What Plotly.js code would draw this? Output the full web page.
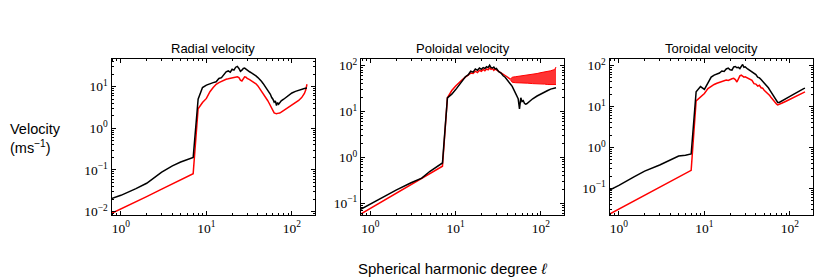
<!DOCTYPE html>
<html>
<head>
<meta charset="utf-8">
<script src="https://cdn.plot.ly/plotly-3.0.1.min.js"></script>
<style>html,body{margin:0;padding:0;background:#fff;}#chart{width:830px;height:277px;}</style>
</head>
<body>
<div id="chart"></div>
<script>
// Spherical harmonic degree (shared sample points)
const degree = [0.75, 1, 1.5, 2, 3, 4, 5, 6, 7, 8, 9, 10, 11, 12, 13, 14, 15, 16, 17, 18, 19, 20, 21, 22, 23, 24, 25, 26, 27, 28, 29, 30,
  32, 34, 36, 38, 40, 42, 44, 46, 48, 50, 52, 54, 56, 58, 60, 62, 64, 66, 68, 70, 72,
  75, 80, 90, 100, 110, 120, 130, 140, 145, 150];

// Values, stored as log10(velocity in m/s)
const radialBlackLog = [-1.70, -1.61, -1.45, -1.32, -1.05, -0.90, -0.81, -0.75, -0.70,
  0.70, 0.98, 1.04, 1.08, 1.10, 1.12, 1.20, 1.22, 1.30, 1.36, 1.38, 1.35, 1.42, 1.40, 1.47, 1.49, 1.44, 1.37, 1.40, 1.44, 1.45, 1.42, 1.40,
  1.36, 1.33, 1.30, 1.26, 1.22, 1.18, 1.13, 1.08, 1.03, 0.98, 0.92, 0.88, 0.82, 0.74, 0.70, 0.63, 0.66, 0.55, 0.62, 0.58, 0.62,
  0.66, 0.70, 0.78, 0.85, 0.89, 0.92, 0.94, 0.96, 0.965, 0.97];
const radialRedLog = [-2.06, -1.94, -1.76, -1.64, -1.46, -1.34, -1.24, -1.16, -1.09,
  0.47, 0.62, 0.72, 0.88, 0.98, 1.06, 1.10, 1.13, 1.16, 1.18, 1.19, 1.20, 1.21, 1.22, 1.23, 1.24, 1.22, 1.16, 1.14, 1.20, 1.24, 1.23, 1.20,
  1.17, 1.14, 1.10, 1.07, 1.02, 0.96, 0.90, 0.85, 0.79, 0.73, 0.67, 0.61, 0.54, 0.46, 0.40, 0.37, 0.36, 0.35, 0.36, 0.36, 0.37,
  0.39, 0.43, 0.49, 0.55, 0.61, 0.67, 0.74, 0.84, 0.92, 1.06];

const poloidalBlackLog = [-1.14, -1.01, -0.83, -0.71, -0.55, -0.45, -0.30, -0.20, -0.12,
  1.30, 1.38, 1.48, 1.58, 1.66, 1.76, 1.80, 1.88, 1.86, 1.93, 1.90, 1.95, 1.92, 1.96, 1.94, 1.98, 1.96, 2.01, 1.96, 1.95, 1.97, 1.93, 1.94,
  1.87, 1.84, 1.78, 1.75, 1.70, 1.66, 1.60, 1.55, 1.48, 1.42, 1.35, 1.28, 1.06, 1.30, 1.22, 1.24, 1.18, 1.16, 1.17, 1.19, 1.21,
  1.24, 1.28, 1.34, 1.39, 1.43, 1.46, 1.49, 1.51, 1.51, 1.52];
const poloidalRedLog = [-1.246, -1.11, -0.92, -0.78, -0.59, -0.46, -0.35, -0.27, -0.19,
  1.30, 1.46, 1.56, 1.64, 1.70, 1.75, 1.80, 1.84, 1.83, 1.88, 1.85, 1.90, 1.88, 1.92, 1.89, 1.93, 1.91, 1.95, 1.92, 1.94, 1.90, 1.93, 1.91,
  1.88, 1.85, 1.82, 1.79, 1.76, 1.73, 1.70];
// Oscillating red band at high degree (envelope)
const poloidalBandDegree = [44, 46, 50, 55, 60, 70, 80, 90, 100, 110, 120, 130, 140, 145, 150];
const poloidalBandUpperLog = [1.71, 1.75, 1.76, 1.77, 1.78, 1.80, 1.82, 1.83, 1.85, 1.86, 1.88, 1.89, 1.91, 1.92, 1.97];
const poloidalBandLowerLog = [1.69, 1.64, 1.63, 1.63, 1.62, 1.62, 1.61, 1.61, 1.60, 1.60, 1.59, 1.59, 1.59, 1.59, 1.59];

const toroidalBlackLog = [-1.06, -0.93, -0.72, -0.58, -0.43, -0.31, -0.21, -0.19, -0.16,
  1.36, 1.49, 1.42, 1.58, 1.72, 1.77, 1.80, 1.82, 1.87, 1.86, 1.92, 1.94, 1.90, 1.89, 1.97, 1.98, 1.95, 1.96, 1.93, 2.00, 2.03, 1.96, 1.97,
  1.92, 1.88, 1.84, 1.80, 1.78, 1.72, 1.70, 1.66, 1.62, 1.58, 1.54, 1.50, 1.46, 1.41, 1.36, 1.30, 1.27, 1.22, 1.18, 1.13, 1.10,
  1.10, 1.13, 1.19, 1.25, 1.30, 1.35, 1.39, 1.42, 1.44, 1.45];
const toroidalRedLog = [-1.65, -1.51, -1.31, -1.17, -0.97, -0.83, -0.72, -0.63, -0.56,
  1.14, 1.24, 1.32, 1.44, 1.50, 1.54, 1.57, 1.59, 1.60, 1.63, 1.65, 1.64, 1.67, 1.68, 1.69, 1.66, 1.60, 1.66, 1.75, 1.77, 1.74, 1.72, 1.73,
  1.70, 1.67, 1.64, 1.56, 1.55, 1.50, 1.52, 1.46, 1.45, 1.40, 1.37, 1.34, 1.30, 1.27, 1.23, 1.19, 1.15, 1.12, 1.09, 1.06, 1.04,
  1.05, 1.08, 1.13, 1.18, 1.23, 1.27, 1.31, 1.34, 1.35, 1.36];

const panelTitles = ["Radial velocity", "Poloidal velocity", "Toroidal velocity"];
const xTickVals = [1, 10, 100];
const xTickText = ["10<sup>0</sup>", "10<sup>1</sup>", "10<sup>2</sup>"];
const yTickVals1 = [0.01, 0.1, 1, 10];
const yTickText1 = ["10<sup>−2</sup>", "10<sup>−1</sup>", "10<sup>0</sup>", "10<sup>1</sup>"];
const yTickVals23 = [0.1, 1, 10, 100];
const yTickText23 = ["10<sup>−1</sup>", "10<sup>0</sup>", "10<sup>1</sup>", "10<sup>2</sup>"];

const lin = a => a.map(v => Math.pow(10, v));
const minorVals = [];
[0.001, 0.01, 0.1, 1, 10, 100, 1000].forEach(d => { for (let k = 2; k <= 9; k++) minorVals.push(d * k); });

const BLACK = "#000000", RED = "#ff0000";
const lw = 1.5;
function line(x, yLog, color, ax) {
  return {x: x, y: lin(yLog), mode: "lines", line: {color: color, width: lw}, xaxis: "x" + ax, yaxis: "y" + ax, hoverinfo: "skip", showlegend: false};
}

const traces = [
  line(degree, radialRedLog, RED, ""),
  line(degree, radialBlackLog, BLACK, ""),
  {x: poloidalBandDegree, y: lin(poloidalBandLowerLog), mode: "lines", line: {color: RED, width: 1}, xaxis: "x2", yaxis: "y2", showlegend: false, hoverinfo: "skip"},
  {x: poloidalBandDegree, y: lin(poloidalBandUpperLog), mode: "lines", line: {color: RED, width: 1}, fill: "tonexty", fillcolor: "rgba(255,0,0,0.8)", xaxis: "x2", yaxis: "y2", showlegend: false, hoverinfo: "skip"},
  line(degree.slice(0, poloidalRedLog.length), poloidalRedLog, RED, "2"),
  line(degree, poloidalBlackLog, BLACK, "2"),
  line(degree, toroidalRedLog, RED, "3"),
  line(degree, toroidalBlackLog, BLACK, "3")
];

const W = 830, H = 277;
const xDomains = [[111.5 / W, 315 / W], [361 / W, 564 / W], [609.5 / W, 813 / W]];
const yDomain = [1 - 215.3 / H, 1 - 59.3 / H];
const tickFont = {family: "Liberation Serif, DejaVu Serif, serif", size: 13.5, color: "#000"};

function xAxis(i) {
  return {
    type: "log", domain: xDomains[i], range: [-0.11, 2.27], anchor: i === 0 ? "y" : "y" + (i + 1),
    showline: true, linecolor: "#000", linewidth: 1, mirror: "allticks", ticks: "inside", ticklen: 4, tickwidth: 1, tickcolor: "#000",
    tickmode: "array", tickvals: xTickVals, ticktext: xTickText, tickfont: tickFont, showgrid: false, zeroline: false,
    minor: {tickmode: "array", tickvals: minorVals, ticks: "inside", ticklen: 2, tickwidth: 1, tickcolor: "#000", showgrid: false}
  };
}
function yAxis(i, range, vals, text) {
  return {
    type: "log", domain: yDomain, range: range, anchor: i === 0 ? "x" : "x" + (i + 1),
    showline: true, linecolor: "#000", linewidth: 1, mirror: "allticks", ticks: "inside", ticklen: 4, tickwidth: 1, tickcolor: "#000",
    tickmode: "array", tickvals: vals, ticktext: text, tickfont: tickFont, showgrid: false, zeroline: false,
    minor: {tickmode: "array", tickvals: minorVals, ticks: "inside", ticklen: 2, tickwidth: 1, tickcolor: "#000", showgrid: false}
  };
}

const sans = "Liberation Sans, Arial, sans-serif";
const annotations = panelTitles.map((t, i) => ({
  text: t, xref: "paper", yref: "paper", x: (xDomains[i][0] + xDomains[i][1]) / 2, y: 1 - 49 / H,
  xanchor: "center", yanchor: "middle", showarrow: false, font: {family: sans, size: 13, color: "#000"}
}));
annotations.push({text: "Velocity<br>(ms<sup>−1</sup>)", xref: "paper", yref: "paper", x: 8 / W, y: 1 - 138 / H,
  xanchor: "left", yanchor: "middle", align: "left", showarrow: false, font: {family: sans, size: 14.5, color: "#000"}});
annotations.push({text: "Spherical harmonic degree <i>ℓ</i>", xref: "paper", yref: "paper", x: 452 / W, y: 1 - 268 / H,
  xanchor: "center", yanchor: "middle", showarrow: false, font: {family: sans, size: 15, color: "#000"}});

const layout = {
  width: W, height: H, margin: {l: 0, r: 0, t: 0, b: 0}, paper_bgcolor: "#fff", plot_bgcolor: "#fff", showlegend: false,
  xaxis: xAxis(0), xaxis2: xAxis(1), xaxis3: xAxis(2),
  yaxis: yAxis(0, [-2.09, 1.66], yTickVals1, yTickText1),
  yaxis2: yAxis(1, [-1.26, 2.14], yTickVals23, yTickText23),
  yaxis3: yAxis(2, [-1.66, 2.156], yTickVals23, yTickText23),
  annotations: annotations
};

Plotly.newPlot("chart", traces, layout, {staticPlot: true, displayModeBar: false});
</script>
</body>
</html>
